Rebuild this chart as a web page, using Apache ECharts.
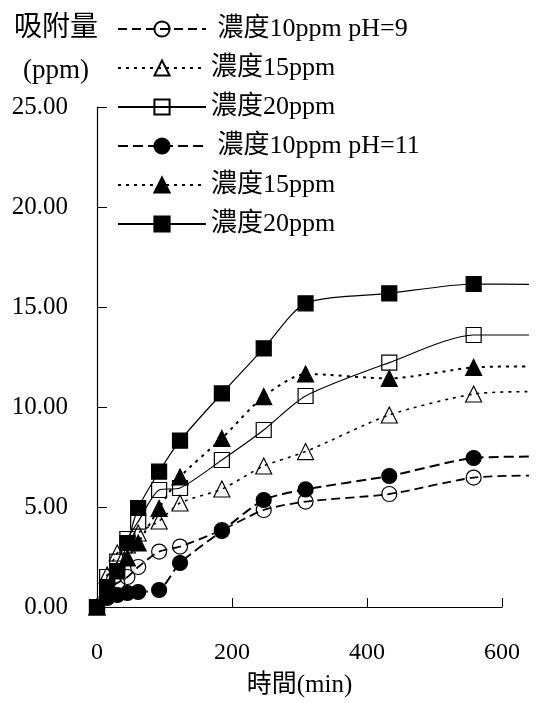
<!DOCTYPE html>
<html><head><meta charset="utf-8">
<script src="https://cdn.jsdelivr.net/npm/echarts@6/dist/echarts.min.js"></script>
<style>html,body{margin:0;padding:0;background:#fff}#c{width:536px;height:703px}</style>
</head><body><div id="c"></div>
<script>
const FONT = '"Liberation Serif","Noto Sans CJK TC",serif';
// time points (min); last point is the line's tail (no marker)
const times = [0, 15, 30, 45, 61, 92, 123, 185, 247, 309, 433, 558, 640];
const seriesNames = [' 濃度10ppm pH=9', '濃度15ppm', '濃度20ppm', ' 濃度10ppm pH=11', '濃度15ppm ', '濃度20ppm '];
const ph9_10 = [0, 0.8, 1.2, 1.5, 2.0, 2.77, 3.02, 3.85, 4.85, 5.27, 5.65, 6.47, 6.57];
const ph9_15 = [0, 1.6, 2.7, 3.1, 3.7, 4.3, 5.2, 5.9, 7.05, 7.77, 9.6, 10.65, 10.77];
const ph9_20 = [0, 1.5, 2.27, 3.4, 4.27, 5.85, 5.95, 7.35, 8.85, 10.55, 12.22, 13.6, 13.6];
const ph11_10 = [0, 0.45, 0.6, 0.7, 0.75, 0.85, 2.2, 3.8, 5.35, 5.88, 6.55, 7.45, 7.52];
const ph11_15 = [0, 0.9, 1.8, 2.45, 3.2, 4.93, 6.5, 8.43, 10.52, 11.65, 11.43, 11.98, 12.03];
const ph11_20 = [0, 1.0, 1.8, 3.2, 4.95, 6.77, 8.32, 10.68, 12.93, 15.18, 15.68, 16.15, 16.13];
const yTicks = [0, 5, 10, 15, 20, 25];
const xTicks = [0, 200, 400, 600];
const xDataMax = 640; // the curves run on a little past the last axis tick

const values = [ph9_10, ph9_15, ph9_20, ph11_10, ph11_15, ph11_20];
const styles = [
  {symbol: 'circle', size: 15, fill: 'rgba(0,0,0,0)', dash: [9, 5], width: 1.8},
  {symbol: 'triangle', size: 16, fill: 'rgba(0,0,0,0)', dash: [3, 5], width: 1.6},
  {symbol: 'rect', size: 15, fill: 'rgba(0,0,0,0)', dash: 'solid', width: 1.2},
  {symbol: 'circle', size: 15, fill: '#000', dash: [10, 5], width: 2},
  {symbol: 'triangle', size: 16, fill: '#000', dash: [3, 5], width: 2},
  {symbol: 'rect', size: 15, fill: '#000', dash: 'solid', width: 1.2}
];

const axisW = 405;            // px of 0..600
const gridLeft = 97, gridTop = 107, gridBottom = 96;
const gridB_W = axisW * xDataMax / xTicks[xTicks.length - 1];

const series = values.map((vals, i) => {
  const st = styles[i];
  return {
    name: seriesNames[i],
    type: 'line',
    xAxisIndex: 1, yAxisIndex: 1,
    clip: false,
    smooth: 0.25,
    symbol: st.symbol,
    symbolSize: st.size,
    data: vals.map((v, k) => k === vals.length - 1 ? {value: [times[k], v], symbol: 'none'} : [times[k], v]),
    itemStyle: {color: st.fill, borderColor: '#000', borderWidth: 1.2, opacity: 1},
    lineStyle: {color: '#000', width: st.width, type: st.dash},
    emphasis: {disabled: true},
    animation: false
  };
});

const chart = echarts.init(document.getElementById('c'), null, {renderer: 'canvas'});
chart.setOption({
  backgroundColor: '#fff',
  animation: false,
  title: [
    {text: '吸附量', left: 9, top: 10, textStyle: {fontFamily: FONT, fontSize: 28, fontWeight: 'normal', color: '#000'}},
    {text: '(ppm)', left: 18, top: 52, textStyle: {fontFamily: FONT, fontSize: 27, fontWeight: 'normal', color: '#000'}}
  ],
  legend: {
    orient: 'vertical', left: 112, top: 11,
    itemWidth: 88, itemHeight: 19, itemGap: 13,
    data: seriesNames,
    textStyle: {fontFamily: FONT, fontSize: 26, lineHeight: 26, color: '#000'},
    selectedMode: false
  },
  grid: [
    {left: gridLeft, width: axisW, top: gridTop, bottom: gridBottom, containLabel: false},
    {left: gridLeft, width: gridB_W, top: gridTop, bottom: gridBottom, containLabel: false}
  ],
  xAxis: [{
    gridIndex: 0,
    type: 'value', min: xTicks[0], max: xTicks[xTicks.length - 1], interval: 200,
    name: '時間(min)', nameLocation: 'middle', nameGap: 66,
    nameTextStyle: {fontFamily: FONT, fontSize: 25, color: '#000'},
    axisLine: {onZero: false, lineStyle: {color: '#000', width: 1.2}},
    axisTick: {inside: true, length: 9, lineStyle: {color: '#000'}},
    axisLabel: {fontFamily: FONT, fontSize: 24, color: '#000', margin: 34},
    splitLine: {show: false}
  }, {
    gridIndex: 1,
    type: 'value', min: xTicks[0], max: xDataMax,
    show: false, splitLine: {show: false}
  }],
  yAxis: [{
    gridIndex: 0,
    type: 'value', min: yTicks[0], max: yTicks[yTicks.length - 1], interval: 5,
    axisLine: {show: true, onZero: false, lineStyle: {color: '#000', width: 1.2}},
    axisTick: {show: true, inside: true, length: 10, lineStyle: {color: '#000'}},
    axisLabel: {fontFamily: FONT, fontSize: 25, color: '#000', margin: 29, formatter: v => v.toFixed(2)},
    splitLine: {show: false}
  }, {
    gridIndex: 1,
    type: 'value', min: yTicks[0], max: yTicks[yTicks.length - 1],
    show: false, splitLine: {show: false}
  }],
  series: series
});
</script></body></html>
